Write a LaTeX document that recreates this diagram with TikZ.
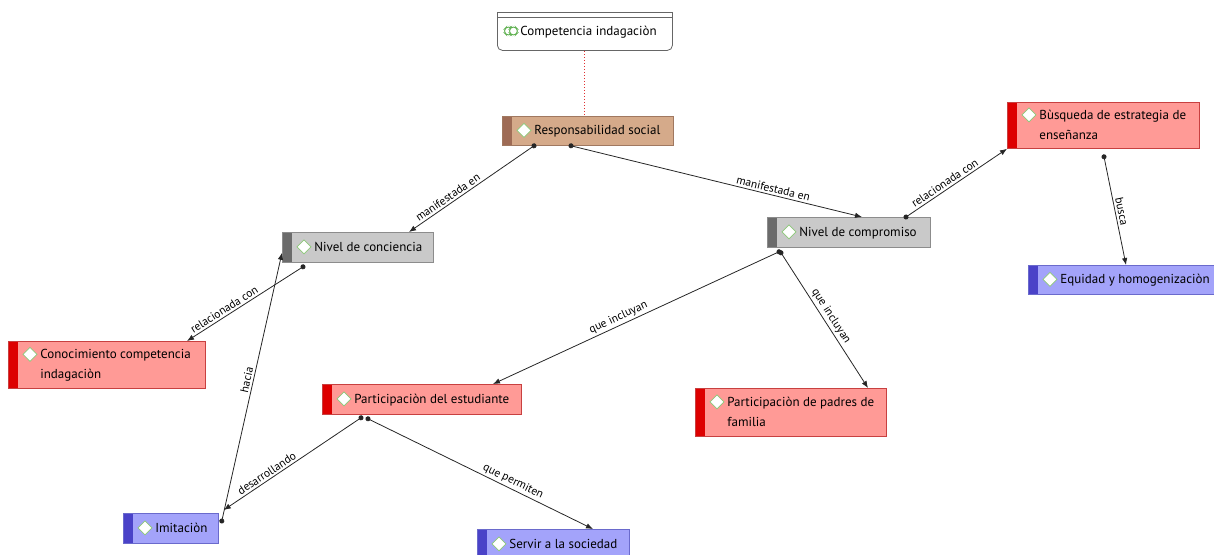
\documentclass[tikz,border=0pt]{standalone}
\usepackage{fontspec}
\setmainfont{PT Sans}
\usetikzlibrary{arrows.meta,calc}

\definecolor{grayfill}{HTML}{C9C9C9}
\definecolor{graystripe}{HTML}{6B6B6B}
\definecolor{grayborder}{HTML}{8C8C8C}
\definecolor{tanfill}{HTML}{D5AA8A}
\definecolor{tanstripe}{HTML}{9E6B55}
\definecolor{tanborder}{HTML}{A07860}
\definecolor{redfill}{HTML}{FF9A96}
\definecolor{redstripe}{HTML}{DD0000}
\definecolor{redborder}{HTML}{C84040}
\definecolor{bluefill}{HTML}{A3A3FA}
\definecolor{bluestripe}{HTML}{4A42C8}
\definecolor{blueborder}{HTML}{6A6ACC}
\definecolor{icongreen}{HTML}{8CC878}
\definecolor{icongreendark}{HTML}{5FB050}
\definecolor{linkred}{HTML}{E03030}

% small white diamond marking each concept
\newcommand\diam{\tikz[baseline={(0,-4.5pt)}]\draw[icongreen,fill=white,line width=0.8pt]
  (0,0) -- (7pt,7pt) -- (14pt,0) -- (7pt,-7pt) -- cycle;}
% double marker of the root concept: a chevron behind a diamond
\newcommand\dblicon{\tikz[baseline={(0,-4.5pt)}]{%
  \draw[icongreendark,fill=white,line width=0.9pt] (0,0) -- (6pt,6pt) -- (12pt,0) -- (6pt,-6pt) -- cycle;
  \draw[icongreendark,fill=white,line width=0.9pt] (5pt,0) -- (11pt,6pt) -- (17pt,0) -- (11pt,-6pt) -- cycle;}}
% concept text: box width, lines
\newcommand\lbl[2]{\makebox[\dimexpr#1pt-6pt\relax][l]{\makebox[29pt][r]{\diam\hspace{3pt}}%
  \begin{tabular}[t]{@{}l@{}}#2\end{tabular}}}

\tikzset{
  stripe/.store in=\stripecolor,
  stripe=graystripe,
  cpt/.style={rectangle, anchor=north west, inner xsep=3pt, inner ysep=1pt,
    line width=0.8pt, font=\fontsize{13}{20}\selectfont,
    path picture={\fill[\stripecolor] (path picture bounding box.north west)
      rectangle ([xshift=10pt]path picture bounding box.south west);}},
  graybox/.style={cpt, fill=grayfill, draw=grayborder, stripe=graystripe},
  tanbox/.style={cpt, fill=tanfill, draw=tanborder, stripe=tanstripe},
  redbox/.style={cpt, fill=redfill, draw=redborder, stripe=redstripe},
  bluebox/.style={cpt, fill=bluefill, draw=blueborder, stripe=bluestripe},
  conn/.style={draw=black!85, line width=0.8pt, shorten <=-2.5pt,
    {Circle[length=5pt]}-{Latex[length=7pt,width=5.5pt]}},
  lab/.style={sloped, above, inner sep=2pt, font=\fontsize{11.5}{11.5}\selectfont},
}

\begin{document}
\begin{tikzpicture}[x=1pt,y=1pt]
\useasboundingbox (0,0) rectangle (1214,-554);
\clip (0,0) rectangle (1214,-554);

% root concept with header strip
\node[anchor=north west, rectangle, rounded corners=5pt, draw=black!60, fill=white,
  line width=0.8pt, minimum width=175pt, minimum height=38pt, inner xsep=3pt,
  font=\fontsize{13}{20}\selectfont] (comp) at (497,-12)
  {\makebox[169pt][l]{\makebox[20pt][r]{\dblicon\hspace{0.5pt}}Competencia indagaciòn}};
\draw[draw=black!60, fill=white, line width=0.8pt] (comp.north west) rectangle ([yshift=-5pt]comp.north east);

% concepts
\node[tanbox, minimum width=171pt, minimum height=29pt] (resp) at (502,-116) {\lbl{171}{Responsabilidad social}};
\node[graybox, minimum width=151pt, minimum height=30pt] (conc) at (282,-232) {\lbl{151}{Nivel de conciencia}};
\node[graybox, minimum width=163pt, minimum height=30pt] (compr) at (767,-217) {\lbl{163}{Nivel de compromiso}};
\node[redbox, minimum width=192pt, minimum height=46pt] (busq) at (1007,-102) {\lbl{192}{Bùsqueda de estrategia de\\enseñanza}};
\node[bluebox, minimum width=188pt, minimum height=29pt] (equi) at (1028,-265) {\lbl{188}{Equidad y homogenizaciòn}};
\node[redbox, minimum width=197pt, minimum height=47pt] (cono) at (8,-341) {\lbl{197}{Conocimiento competencia\\indagaciòn}};
\node[redbox, minimum width=199pt, minimum height=30pt] (pest) at (322,-384) {\lbl{199}{Participaciòn del estudiante}};
\node[redbox, minimum width=191pt, minimum height=48pt] (ppad) at (695,-388) {\lbl{191}{Participaciòn de padres de\\familia}};
\node[bluebox, minimum width=95pt, minimum height=30pt] (imit) at (123,-513) {\lbl{95}{Imitaciòn}};
\node[bluebox, minimum width=152pt, minimum height=30pt] (serv) at (477,-529) {\lbl{152}{Servir a la sociedad}};

% links
\draw[linkred, dotted, line width=1pt] (comp.south) -- (comp.south |- resp.north);

\draw[conn] ([xshift=32pt]resp.south west) -- node[lab, pos=0.66] {manifestada en} ([xshift=127pt]conc.north west);
\draw[conn] ([xshift=69pt]resp.south west) -- node[lab, pos=0.69] {manifestada en} ([xshift=95pt]compr.north west);
\draw[conn] ([xshift=139pt]compr.north west) -- node[lab, pos=0.42] {relacionada con} (busq.south west);
\draw[conn] ([xshift=97pt,yshift=-8pt]busq.south west) -- node[lab, pos=0.52] {busca} ([xshift=98pt]equi.north west);
\draw[conn] ([xshift=21pt,yshift=-4pt]conc.south west) -- node[lab, pos=0.65] {relacionada con} ([xshift=179pt]cono.north west);
\draw[conn] ([xshift=3pt,yshift=-8pt]imit.north east) -- node[lab, pos=0.52] {hacia} ([yshift=10pt]conc.south west);
\draw[conn] ([xshift=12pt,yshift=-4pt]compr.south west) -- node[lab, pos=0.55] {que incluyan} ([xshift=171pt]pest.north west);
\draw[conn] ([xshift=14pt,yshift=-5pt]compr.south west) -- node[lab, pos=0.5] {que incluyan} ([xshift=173pt]ppad.north west);
\draw[conn] ([xshift=39pt,yshift=-3pt]pest.south west) -- node[lab, pos=0.66] {desarrollando} ([xshift=5pt,yshift=3pt]imit.north east);
\draw[conn] ([xshift=46pt,yshift=-4pt]pest.south west) -- node[lab, pos=0.63] {que permiten} ([xshift=116pt]serv.north west);
\end{tikzpicture}
\end{document}
